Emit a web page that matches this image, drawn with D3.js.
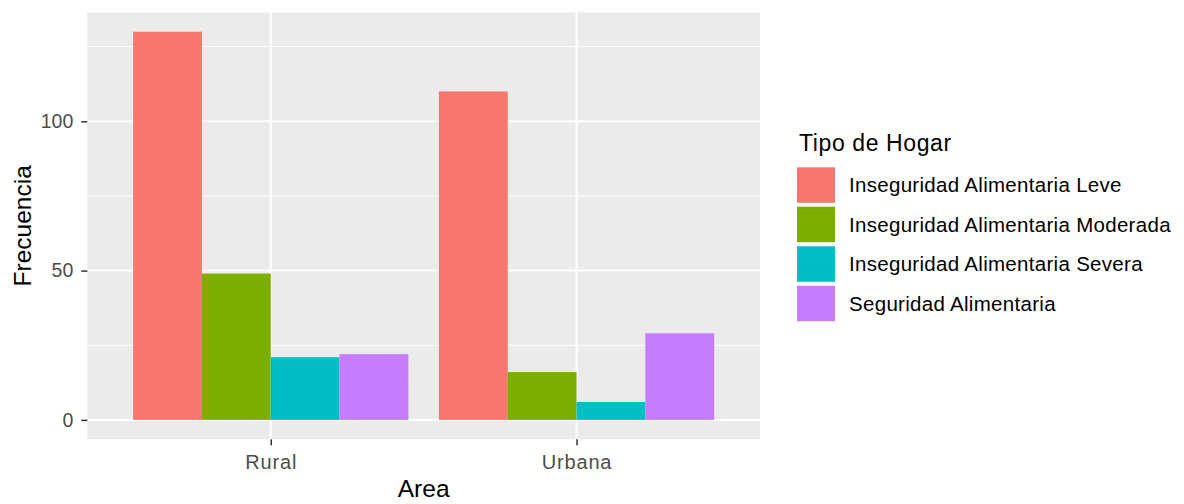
<!DOCTYPE html>
<html>
<head>
<meta charset="utf-8">
<script src="https://cdn.jsdelivr.net/npm/d3@7"></script>
<style>
  html, body { margin: 0; padding: 0; background: #ffffff; }
  svg { display: block; font-family: "Liberation Sans", Arial, sans-serif; }
</style>
</head>
<body>
<svg id="chart" width="1184" height="504"></svg>
<script>
// ---- data ----
const areas = ["Rural", "Urbana"];
const tipos = [
  "Inseguridad Alimentaria Leve",
  "Inseguridad Alimentaria Moderada",
  "Inseguridad Alimentaria Severa",
  "Seguridad Alimentaria"
];
const ruralValues  = [130, 49, 21, 22];
const urbanaValues = [110, 16, 6, 29];
const yMajorTicks = [0, 50, 100];
const yMinorTicks = [25, 75, 125];
const colors = ["#F8766D", "#7CAE00", "#00BFC4", "#C77CFF"];
const xTitle = "Area";
const yTitle = "Frecuencia";
const legendTitle = "Tipo de Hogar";

const valuesByArea = { "Rural": ruralValues, "Urbana": urbanaValues };

// ---- layout ----
const panel = { left: 87.3, right: 760, top: 12.3, bottom: 439.3 };
const svg = d3.select("#chart");

const yMax = d3.max([...ruralValues, ...urbanaValues]);
const yPad = yMax * 0.05;
const y = d3.scaleLinear().domain([-yPad, yMax + yPad]).range([panel.bottom, panel.top]);

const x = d3.scalePoint().domain(areas).range([panel.left, panel.right]).padding(0.6);
const step = x.step();
const xInner = d3.scaleBand().domain(tipos).range([-0.45 * step, 0.45 * step]).padding(0);
const color = d3.scaleOrdinal().domain(tipos).range(colors);

// panel background
svg.append("rect")
  .attr("x", panel.left).attr("y", panel.top)
  .attr("width", panel.right - panel.left).attr("height", panel.bottom - panel.top)
  .attr("fill", "#EBEBEB");

const grid = svg.append("g");
grid.selectAll("line.minor").data(yMinorTicks).join("line")
  .attr("x1", panel.left).attr("x2", panel.right)
  .attr("y1", d => y(d)).attr("y2", d => y(d))
  .attr("stroke", "#ffffff").attr("stroke-width", 1);
grid.selectAll("line.major").data(yMajorTicks).join("line")
  .attr("x1", panel.left).attr("x2", panel.right)
  .attr("y1", d => y(d)).attr("y2", d => y(d))
  .attr("stroke", "#ffffff").attr("stroke-width", 2);
grid.selectAll("line.vmajor").data(areas).join("line")
  .attr("x1", d => x(d)).attr("x2", d => x(d))
  .attr("y1", panel.top).attr("y2", panel.bottom)
  .attr("stroke", "#ffffff").attr("stroke-width", 2);

// bars
const barData = [];
areas.forEach(a => tipos.forEach((t, i) => barData.push({ area: a, tipo: t, value: valuesByArea[a][i] })));
svg.append("g").selectAll("rect").data(barData).join("rect")
  .attr("x", d => x(d.area) + xInner(d.tipo))
  .attr("width", xInner.bandwidth())
  .attr("y", d => y(d.value))
  .attr("height", d => y(0) - y(d.value))
  .attr("fill", d => color(d.tipo));

// axes
const yAxis = d3.axisLeft(y).tickValues(yMajorTicks).tickSize(6).tickPadding(8);
const gy = svg.append("g").attr("transform", `translate(${panel.left},0)`).call(yAxis);
gy.select(".domain").remove();
gy.selectAll(".tick line").attr("stroke", "#333333").attr("stroke-width", 1.5);
gy.selectAll(".tick text").attr("fill", "#4D4D4D").style("font-size", "19.5px")
  .style("font-family", "Liberation Sans, Arial, sans-serif");

const xAxis = d3.axisBottom(x).tickSize(6).tickPadding(10);
const gx = svg.append("g").attr("transform", `translate(0,${panel.bottom})`).call(xAxis);
gx.select(".domain").remove();
gx.selectAll(".tick line").attr("stroke", "#333333").attr("stroke-width", 1.5);
gx.selectAll(".tick text").attr("fill", "#4D4D4D").style("font-size", "20px")
  .style("letter-spacing", "0.8px")
  .style("font-family", "Liberation Sans, Arial, sans-serif");

// axis titles
svg.append("text")
  .attr("x", (panel.left + panel.right) / 2).attr("y", 497)
  .attr("text-anchor", "middle").attr("fill", "#000")
  .style("font-size", "24.5px").text(xTitle);
svg.append("text")
  .attr("transform", `translate(31,${(panel.top + panel.bottom) / 2}) rotate(-90)`)
  .attr("text-anchor", "middle").attr("fill", "#000")
  .style("font-size", "24.5px").text(yTitle);

// legend
const legend = svg.append("g");
legend.append("text").attr("x", 799).attr("y", 151)
  .attr("fill", "#000").style("font-size", "23px").style("letter-spacing", "0.6px")
  .text(legendTitle);
const keyTop = [167.3, 206.7, 246.3, 285.7];
const keyH = 35.5;
const items = legend.selectAll("g.item").data(tipos).join("g")
  .attr("transform", (d, i) => `translate(797,${keyTop[i]})`);
items.append("rect").attr("width", 38).attr("height", keyH).attr("fill", d => color(d));
items.append("text").attr("x", 52).attr("y", keyH / 2).attr("dy", "0.35em")
  .attr("fill", "#000").style("font-size", "20.5px").style("letter-spacing", "0.3px")
  .text(d => d);
</script>
</body>
</html>
